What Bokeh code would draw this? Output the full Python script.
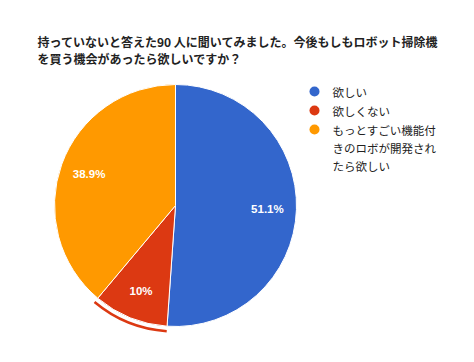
import math
from bokeh.plotting import figure
from bokeh.models import Range1d, ColumnDataSource
from bokeh.core.properties import value
from bokeh.embed import file_html
from bokeh.resources import INLINE

title_lines = ["持っていないと答えた90 人に聞いてみました。今後もしもロボット掃除機",
               "を買う機会があったら欲しいですか？"]
categories = ["欲しい", "欲しくない", "もっとすごい機能付きのロボが開発されたら欲しい"]
legend_lines = [["欲しい"], ["欲しくない"], ["もっとすごい機能付", "きのロボが開発され", "たら欲しい"]]
counts = [46, 9, 35]
colors = ["#3366cc", "#dc3912", "#ff9900"]

W, H = 458, 346
p = figure(width=W, height=H, output_backend="svg", toolbar_location=None,
           x_range=Range1d(0, W), y_range=Range1d(-H, 0),
           min_border=0)
p.axis.visible = False
p.grid.visible = False
p.outline_line_color = None
p.background_fill_color = "white"

cx, cy, r = 175, -205, 121
total = sum(counts)
starts, ends, mids, labels = [], [], [], []
a = math.pi / 2
for c in counts:
    frac = c / total
    s = a
    e = a - frac * 2 * math.pi
    starts.append(s); ends.append(e); mids.append((s + e) / 2)
    pct = round(frac * 100, 1)
    labels.append(("%g" % pct) + "%")
    a = e

src = ColumnDataSource(dict(start=starts, end=ends, color=colors, cat=categories))
p.wedge(x=cx, y=cy, radius=r, start_angle="start", end_angle="end", direction="clock",
        fill_color="color", line_color="white", line_width=1, source=src)

# hover highlight ring on the red slice
p.arc(x=cx, y=cy, radius=r + 5, start_angle=starts[1], end_angle=ends[1], direction="clock",
      line_color=colors[1], line_width=2.5)

lr = 0.76 * r
p.text(x=[cx + lr * math.cos(m) for m in mids], y=[cy + lr * math.sin(m) for m in mids],
       text=labels, text_color="white", text_font=value("Liberation Sans"),
       text_font_style="bold", text_font_size="11.5px", text_align="center",
       text_baseline="middle")

# title
p.text(x=[37, 37], y=[-41, -58], text=title_lines, text_font=value("Noto Sans CJK JP"),
       text_font_style="bold", text_font_size="12px", text_color="#222222",
       text_baseline="middle", text_align="left")

# legend
ly = [-91, -110, -129]
p.scatter(x=[314] * 3, y=ly, size=10, marker="circle", fill_color=colors, line_color=None)
tx, tyy, tt = [], [], []
for i, lines in enumerate(legend_lines):
    for j, t in enumerate(lines):
        tx.append(332); tyy.append(ly[i] - 18 * j); tt.append(t)
p.text(x=tx, y=tyy, text=tt, text_font=value("Noto Sans CJK JP"), text_font_size="11.5px",
       text_color="#222222", text_baseline="middle", text_align="left")

open("out.html", "w").write(file_html(p, INLINE))
